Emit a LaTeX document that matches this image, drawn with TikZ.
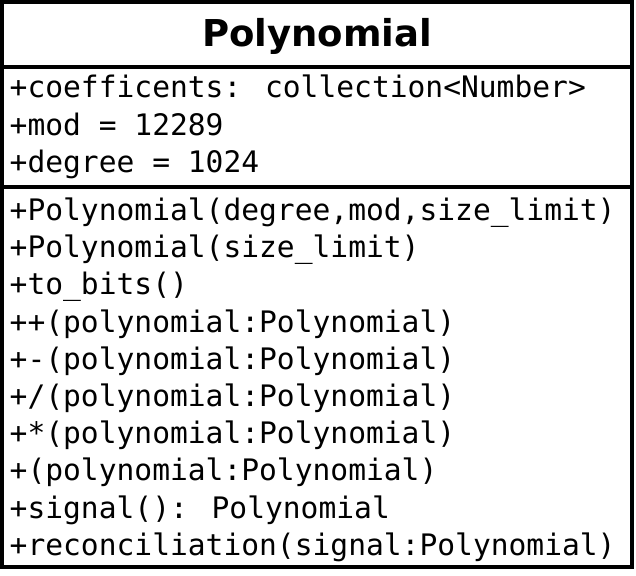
\documentclass[tikz,border=0pt]{standalone}
\usepackage{fontspec}
\newfontfamily\titlefont{DejaVu Sans}
\newfontfamily\membfont{DejaVu Sans Mono}
\begin{document}
\begin{tikzpicture}[x=1pt,y=-1pt,
  frame/.style={line width=4pt},
  classname/.style={font=\titlefont\bfseries\fontsize{37}{40}\selectfont, anchor=base, inner sep=0pt},
  member/.style={font=\membfont\fontsize{29.6}{37}\selectfont, anchor=base west, inner sep=0pt}]
  \useasboundingbox (0,0) rectangle (636,575);
  \fill[white] (0,0) rectangle (636,575);
  % class box and compartment separators
  \coordinate (tl) at (2.3,2.3);
  \coordinate (br) at (632,566.5);
  \coordinate (s1l) at (2.3,67);
  \coordinate (s1r) at (632,67);
  \coordinate (s2l) at (2.3,187);
  \coordinate (s2r) at (632,187);
  \draw[frame] (tl) rectangle (br);
  \draw[frame] (s1l) -- (s1r);
  \draw[frame] (s2l) -- (s2r);
  % class name
  \node[classname] (name) at (317,46.7) {Polynomial};
  % attributes
  \node[member] (a1) at (9.5,98) {+coefficents: collection<Number>};
  \node[member] (a2) at (9.5,135) {+mod = 12289};
  \node[member] (a3) at (9.5,172) {+degree = 1024};
  % operations
  \foreach \txt [count=\i] in {
    {+Polynomial(degree,mod,size\_limit)},
    {+Polynomial(size\_limit)},
    {+to\_bits()},
    {++(polynomial:Polynomial)},
    {+-(polynomial:Polynomial)},
    {+/(polynomial:Polynomial)},
    {+*(polynomial:Polynomial)},
    {+(polynomial:Polynomial)},
    {+signal(): Polynomial},
    {+reconciliation(signal:Polynomial)}}
    \node[member] (m\i) at (9.5,{220.5+(\i-1)*37.2}) {\txt};
\end{tikzpicture}
\end{document}
